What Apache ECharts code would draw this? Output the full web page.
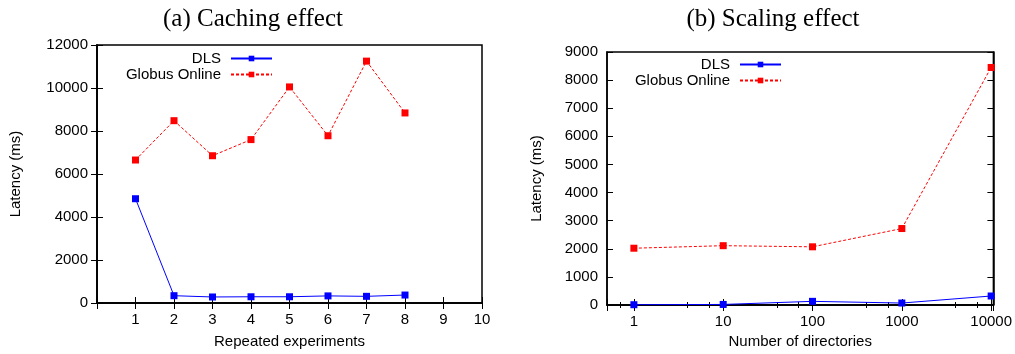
<!DOCTYPE html>
<html>
<head>
<meta charset="utf-8">
<script src="https://cdn.jsdelivr.net/npm/echarts@6/dist/echarts.min.js"></script>
<style>
html, body { margin: 0; padding: 0; background: #fff; }
#chart { width: 1015px; height: 354px; }
</style>
</head>
<body>
<div id="chart"></div>
<script>
// (a) caching effect
var runs = [1, 2, 3, 4, 5, 6, 7, 8];
var dlsCache = [4850, 340, 280, 290, 290, 330, 310, 370];
var globusCache = [6650, 8480, 6850, 7600, 10050, 7780, 11250, 8840];

// (b) scaling effect
var dirs = [1, 10, 100, 1000, 10000];
var dlsScale = [10, 20, 130, 70, 320];
var globusScale = [2020, 2110, 2070, 2720, 8450];

function pairs(xs, ys) {
	var out = [];
	for (var i = 0; i < xs.length; i++) {
		out.push([xs[i], ys[i]]);
	}
	return out;
}

var font = 'Liberation Sans';
var black = '#000';
var axisLine = { show: true, lineStyle: { color: black, width: 1.5 } };
var tick = { show: true, inside: true, length: 6, lineStyle: { color: black, width: 1 } };
var label = { color: black, fontFamily: font, fontSize: 15, formatter: function(v) { return String(v); } };
var nameStyle = { color: black, fontFamily: font, fontSize: 15 };
var titleStyle = { fontFamily : 'Liberation Serif', fontSize : 25, fontWeight : 'normal', color : black };

function lineSeries(name, color, dashed, xi, yi, data) {
	return {
		name: name,
		type: 'line',
		xAxisIndex: xi,
		yAxisIndex: yi,
		data: data,
		symbol: 'rect',
		symbolSize: 7,
		showSymbol: true,
		animation: false,
		itemStyle: { color: color },
		lineStyle: { color: color, width: 1, type: dashed ? [3, 2] : 'solid' }
	};
}

function legendAt(right, top) {
	return {
		orient : 'vertical',
		right : right,
		top : top,
		align : 'right',
		itemWidth : 41,
		itemHeight : 7,
		itemGap : 1,
		textStyle : { color : black, fontFamily : font, fontSize : 15, padding : [0, 5, 0, 0] },
		data : [ 'DLS', 'Globus Online' ]
	};
}

var myChart = echarts.init(document.getElementById('chart'));

var option = {
	animation: false,
	title : [ {
		text : '(a) Caching effect',
		left : 248,
		top : 2,
		textAlign : 'center',
		textStyle : titleStyle
	}, {
		text : '(b) Scaling effect',
		left : 768,
		top : 2,
		textAlign : 'center',
		textStyle : titleStyle
	} ],
	legend : [ legendAt(737, 46), legendAt(228, 52) ],
	grid : [ {
		left : 97, right : 533, top : 45, bottom : 50,
		show : true, borderColor : black, borderWidth : 1.5
	}, {
		left : 607, right : 21, top : 52, bottom : 48,
		show : true, borderColor : black, borderWidth : 1.5
	} ],
	xAxis : [ {
		gridIndex : 0, type : 'value', min : 0, max : 10, interval : 1,
		name : 'Repeated experiments', nameLocation : 'middle', nameGap : 31, nameTextStyle : nameStyle,
		axisLine : axisLine, axisTick : tick, splitLine : { show : false },
		axisLabel : Object.assign({}, label, { margin : 9, formatter : function(v) { return v === 0 ? '' : String(v); } })
	}, {
		gridIndex : 0, type : 'value', position : 'top', min : 0, max : 10, interval : 1,
		axisLine : axisLine, axisTick : tick, splitLine : { show : false }, axisLabel : { show : false }
	}, {
		gridIndex : 1, type : 'log', logBase : 10, min : 0.5, max : 10600,
		name : 'Number of directories', nameLocation : 'middle', nameGap : 29, nameTextStyle : nameStyle,
		axisLine : axisLine, axisTick : tick, splitLine : { show : false },
		minorTick : { show : true, splitNumber : 3, length : 3, lineStyle : { color : black } },
		axisLabel : Object.assign({}, label, { margin : 9, showMinLabel : false, showMaxLabel : false, formatter : function(v) {
			var l = Math.log10(v);
			return Math.abs(l - Math.round(l)) < 1e-6 ? String(Math.round(v)) : '';
		} })
	}, {
		gridIndex : 1, type : 'log', logBase : 10, position : 'top', min : 0.5, max : 10600,
		axisLine : axisLine, axisTick : tick, splitLine : { show : false }, axisLabel : { show : false },
		minorTick : { show : true, splitNumber : 3, length : 3, lineStyle : { color : black } }
	} ],
	yAxis : [ {
		gridIndex : 0, type : 'value', min : 0, max : 12000, interval : 2000,
		name : 'Latency (ms)', nameLocation : 'middle', nameGap : 74, nameTextStyle : nameStyle,
		axisLine : axisLine, axisTick : tick, splitLine : { show : false },
		axisLabel : Object.assign({}, label, { margin : 9 })
	}, {
		gridIndex : 0, type : 'value', position : 'right', min : 0, max : 12000, interval : 2000,
		axisLine : axisLine, axisTick : tick, splitLine : { show : false }, axisLabel : { show : false }
	}, {
		gridIndex : 1, type : 'value', min : 0, max : 9000, interval : 1000,
		name : 'Latency (ms)', nameLocation : 'middle', nameGap : 63, nameTextStyle : nameStyle,
		axisLine : axisLine, axisTick : tick, splitLine : { show : false },
		axisLabel : Object.assign({}, label, { margin : 9 })
	}, {
		gridIndex : 1, type : 'value', position : 'right', min : 0, max : 9000, interval : 1000,
		axisLine : axisLine, axisTick : tick, splitLine : { show : false }, axisLabel : { show : false }
	} ],
	series : [
		lineSeries('DLS', '#0000ff', false, 0, 0, pairs(runs, dlsCache)),
		lineSeries('Globus Online', '#ff0000', true, 0, 0, pairs(runs, globusCache)),
		lineSeries('DLS', '#0000ff', false, 2, 2, pairs(dirs, dlsScale)),
		lineSeries('Globus Online', '#ff0000', true, 2, 2, pairs(dirs, globusScale))
	]
};
myChart.setOption(option);
</script>
</body>
</html>
